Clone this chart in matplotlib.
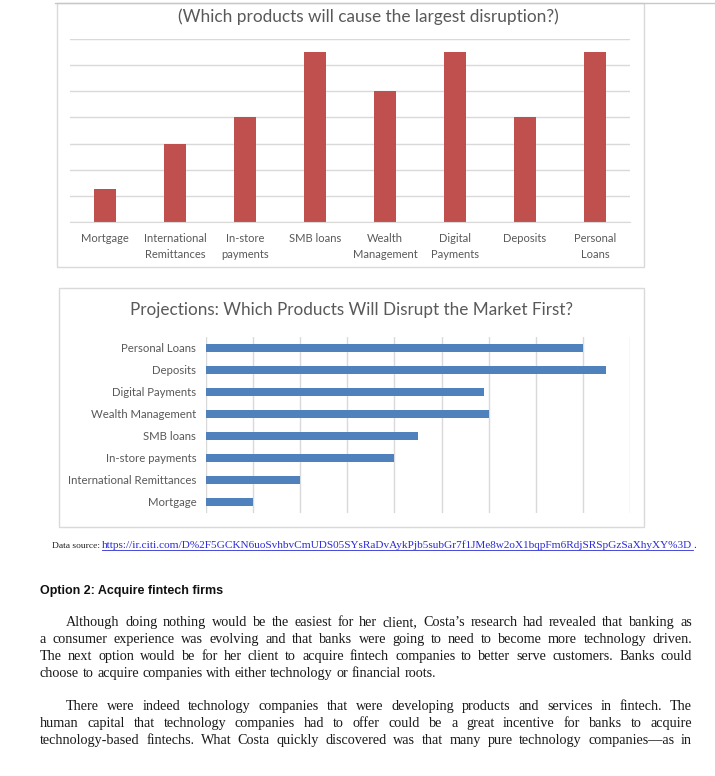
import matplotlib
matplotlib.use("Agg")
import matplotlib.pyplot as plt
from matplotlib.lines import Line2D
from matplotlib.patches import Rectangle

W, H = 715, 776

# chart 1: which products will cause the largest disruption
products1 = ["Mortgage", "International\nRemittances", "In-store\npayments", "SMB loans",
             "Wealth\nManagement", "Digital\nPayments", "Deposits", "Personal\nLoans"]
disruption = [1.25, 3, 4, 6.5, 5, 6.5, 4, 6.5]

# chart 2: which products will disrupt the market first (bottom to top)
products2 = ["Mortgage", "International Remittances", "In-store payments", "SMB loans",
             "Wealth Management", "Digital Payments", "Deposits", "Personal Loans"]
first = [1, 2, 4, 4.5, 6, 5.9, 8.5, 8]

title1 = "(Which products will cause the largest disruption?)"
title2 = "Projections: Which Products Will Disrupt the Market First?"
source_label = "Data source: "
source_url = "https://ir.citi.com/D%2F5GCKN6uoSvhbvCmUDS05SYsRaDvAykPjb5subGr7f1JMe8w2oX1bqpFm6RdjSRSpGzSaXhyXY%3D"
heading = "Option 2: Acquire fintech firms"
para1 = ["Although doing nothing would be the easiest for her client, Costa\u2019s research had revealed that banking as",
         "a consumer experience was evolving and that banks were going to need to become more technology driven.",
         "The next option would be for her client to acquire fintech companies to better serve customers. Banks could",
         "choose to acquire companies with either technology or financial roots."]
para2 = ["There were indeed technology companies that were developing products and services in fintech. The",
         "human capital that technology companies had to offer could be a great incentive for banks to acquire",
         "technology-based fintechs. What Costa quickly discovered was that many pure technology companies\u2014as in"]

RED = "#C0504D"
BLUE = "#4F81BD"
GRID = "#D9D9D9"
GREY = "#595959"
CHART_FONT = ["Lato", "DejaVu Sans"]
SERIF = ["Liberation Serif", "DejaVu Serif"]

fig = plt.figure(figsize=(W / 100, H / 100), dpi=100)
renderer = fig.canvas.get_renderer()


def px(x0, y0, x1, y1):
    # pixel box (top-left origin) -> figure fraction rect
    return [x0 / W, 1 - y1 / H, (x1 - x0) / W, (y1 - y0) / H]


def fx(x):
    return x / W


def fy(y):
    return 1 - y / H


def frame(x0, y0, x1, y1):
    fig.patches.append(Rectangle((fx(x0), fy(y1)), fx(x1) - fx(x0), fy(y0) - fy(y1),
                                 transform=fig.transFigure, fill=False, ec=GRID, lw=1))


# ---- chart 1 ----
fig.add_artist(Line2D([fx(55), 1], [fy(2.5), fy(2.5)], color="#C8C8C8", lw=1))
frame(57, 2.5, 644, 267)
ax1 = fig.add_axes(px(70, 39, 630, 222))
ax1.bar(range(len(products1)), disruption, width=0.32, color=RED)
ax1.set_xlim(-0.5, len(products1) - 0.5)
ax1.set_ylim(0, 7)
ax1.set_yticks(range(8))
ax1.set_yticklabels([])
ax1.yaxis.grid(True, color=GRID, lw=1)
ax1.set_axisbelow(True)
ax1.set_xticks(range(len(products1)))
ax1.set_xticklabels(products1, fontsize=8, color=GREY, family=CHART_FONT, linespacing=1.55)
ax1.tick_params(length=0, pad=8)
for s in ["top", "right", "left"]:
    ax1.spines[s].set_visible(False)
ax1.spines["bottom"].set_color(GRID)
fig.text(fx(368), fy(17), title1, ha="center", va="center", fontsize=12.4,
         color=GREY, family=CHART_FONT)

# ---- chart 2 ----
frame(59, 288, 644, 527)
ax2 = fig.add_axes(px(206, 337, 630, 513))
ax2.barh(range(len(products2)), first, height=0.33, color=BLUE)
ax2.set_ylim(-0.5, len(products2) - 0.5)
ax2.set_xlim(0, 9)
ax2.set_xticks(range(10))
ax2.set_xticklabels([])
ax2.xaxis.grid(True, color=GRID, lw=1)
ax2.set_axisbelow(True)
ax2.set_yticks(range(len(products2)))
ax2.set_yticklabels(products2, fontsize=8.2, color=GREY, family=CHART_FONT)
ax2.tick_params(length=0, pad=7)
for s in ax2.spines.values():
    s.set_visible(False)
fig.text(fx(352), fy(310), title2, ha="center", va="center", fontsize=12.3,
         color=GREY, family=CHART_FONT)


# ---- text below ----
def width_px(t):
    return t.get_window_extent(renderer).width


def fit_text(x, y, s, target, fs, **kw):
    t = fig.text(fx(x), fy(y), s, fontsize=fs, va="baseline", **kw)
    t.set_fontsize(fs * target / width_px(t))
    return t


lab = fig.text(fx(52), fy(548), source_label, fontsize=6.8, va="baseline",
               family=SERIF, color="#222222")
lab_w = width_px(lab)
url_x = 52 + lab_w
url = fit_text(url_x, 548, source_url, 692 - url_x, 6.5, family=SERIF, color="#2b2bd6")
url_end = url_x + width_px(url)
fig.text(fx(url_end + 1), fy(548), ".", fontsize=url.get_fontsize(), va="baseline",
         family=SERIF, color="#222222")
fig.add_artist(Line2D([fx(url_x), fx(url_end)], [fy(550), fy(550)], color="#2b2bd6", lw=0.6))

fit_text(40, 594, heading, 183, 9,
         family=["DejaVu Sans Condensed", "Liberation Sans Narrow", "Liberation Sans"],
         fontweight="bold", color="#111111")


def justify(lines, y0, step, x0=40, x1=692, indent=26, fs=10.2):
    for i, line in enumerate(lines):
        y = y0 + i * step
        start = x0 + (indent if i == 0 else 0)
        words = line.split()
        texts = [fig.text(0, fy(y), w, fontsize=fs, va="baseline", family=SERIF,
                          color="#1a1a1a") for w in words]
        widths = [width_px(t) for t in texts]
        if i == len(lines) - 1 and len(lines) > 1 and line.endswith("."):
            gap = width_px(fig.text(0, 0, " ", fontsize=fs, family=SERIF, alpha=0))
        else:
            gap = (x1 - start - sum(widths)) / max(len(words) - 1, 1)
        x = start
        for t, w in zip(texts, widths):
            t.set_x(fx(x))
            x += w + gap


justify(para1, 626, 17)
justify(para2, 710, 17)

fig.savefig("out.png", dpi=100)
